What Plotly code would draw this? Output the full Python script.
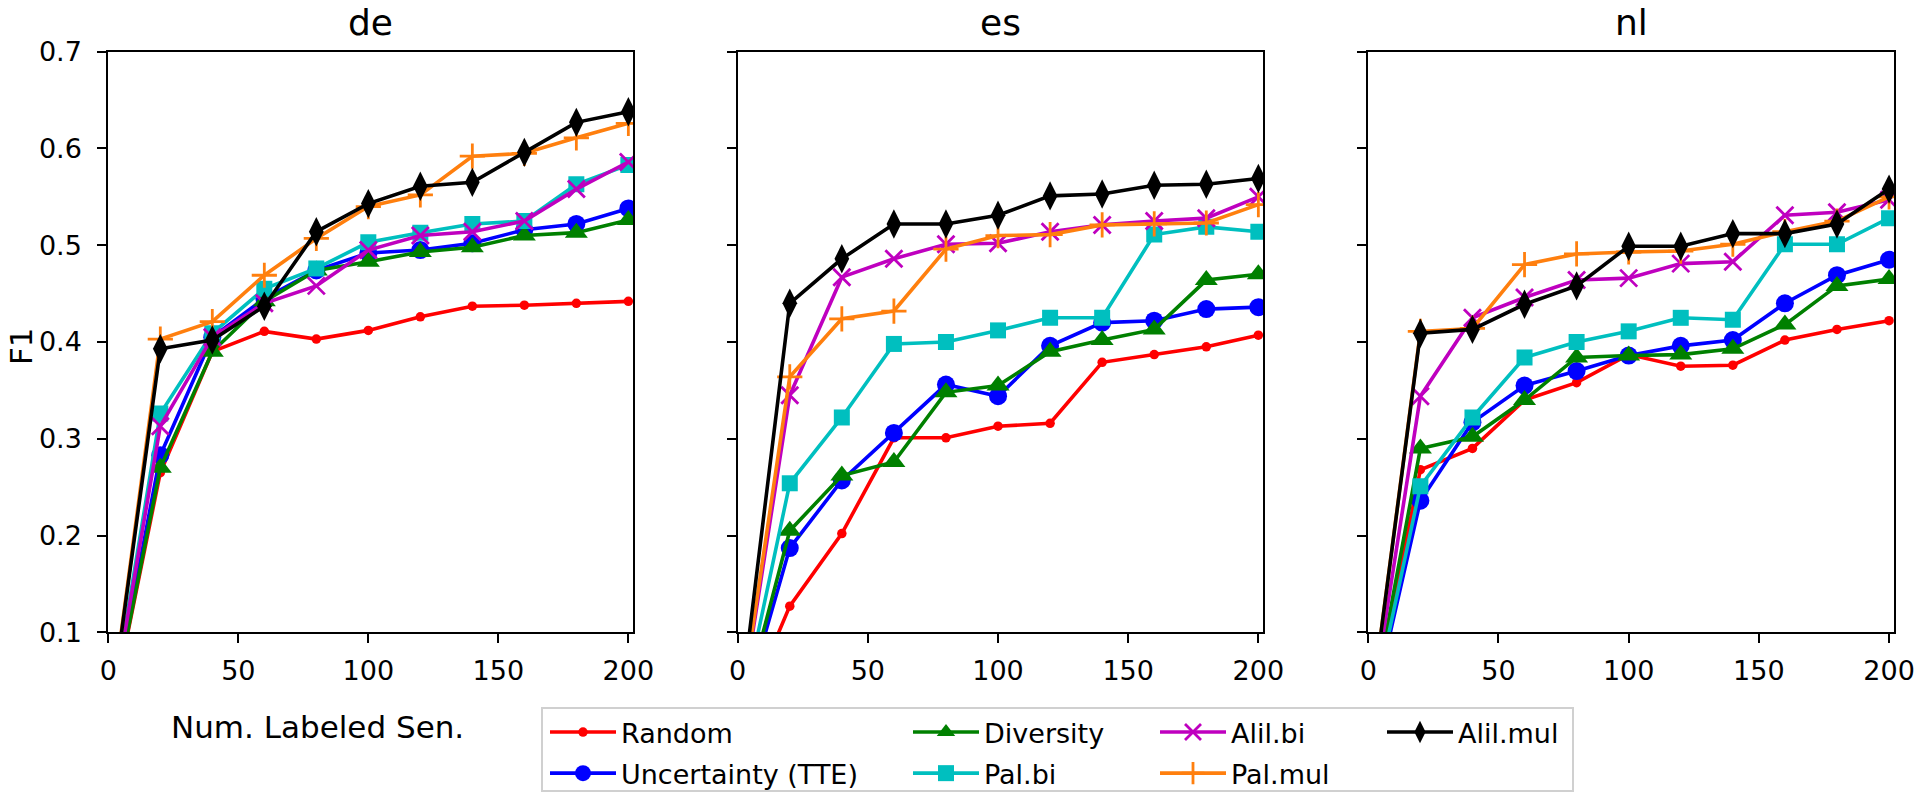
import plotly.graph_objects as go

W, H = 1921, 793

x_vals = [0, 20, 40, 60, 80, 100, 120, 140, 160, 180, 200]
panels = ["de", "es", "nl"]
methods = ["Random", "Uncertainty (TTE)", "Diversity", "Pal.bi", "Alil.bi", "Pal.mul", "Alil.mul"]

# F1 values per panel and method (first point at 0 labeled sentences)
de_random      = [0.0, 0.265, 0.390, 0.411, 0.403, 0.412, 0.426, 0.437, 0.438, 0.440, 0.442]
de_uncertainty = [0.0, 0.283, 0.405, 0.445, 0.474, 0.492, 0.495, 0.502, 0.516, 0.522, 0.538]
de_diversity   = [0.0, 0.270, 0.390, 0.442, 0.474, 0.483, 0.493, 0.498, 0.510, 0.513, 0.526]
de_palbi       = [0.0, 0.326, 0.409, 0.455, 0.476, 0.503, 0.513, 0.522, 0.525, 0.563, 0.583]
de_alilbi      = [0.0, 0.313, 0.405, 0.440, 0.458, 0.495, 0.510, 0.514, 0.525, 0.558, 0.586]
de_palmul      = [0.0, 0.403, 0.421, 0.469, 0.507, 0.540, 0.552, 0.592, 0.595, 0.611, 0.626]
de_alilmul     = [0.0, 0.393, 0.402, 0.437, 0.514, 0.543, 0.561, 0.565, 0.596, 0.627, 0.638]

es_random      = [0.0, 0.127, 0.202, 0.301, 0.301, 0.313, 0.316, 0.379, 0.387, 0.395, 0.407]
es_uncertainty = [0.0, 0.187, 0.257, 0.306, 0.356, 0.344, 0.396, 0.420, 0.422, 0.434, 0.436]
es_diversity   = [0.0, 0.205, 0.262, 0.276, 0.348, 0.355, 0.390, 0.402, 0.413, 0.464, 0.470]
es_palbi       = [0.0, 0.254, 0.322, 0.398, 0.400, 0.412, 0.425, 0.425, 0.511, 0.519, 0.514]
es_alilbi      = [0.0, 0.345, 0.467, 0.486, 0.501, 0.502, 0.514, 0.521, 0.525, 0.528, 0.550]
es_palmul      = [0.0, 0.364, 0.424, 0.432, 0.496, 0.510, 0.511, 0.521, 0.522, 0.523, 0.542]
es_alilmul     = [0.0, 0.440, 0.486, 0.522, 0.522, 0.531, 0.551, 0.553, 0.562, 0.563, 0.569]

nl_random      = [0.0, 0.268, 0.290, 0.340, 0.358, 0.387, 0.375, 0.376, 0.402, 0.413, 0.422]
nl_uncertainty = [0.0, 0.236, 0.317, 0.355, 0.370, 0.386, 0.396, 0.402, 0.440, 0.469, 0.485]
nl_diversity   = [0.0, 0.290, 0.302, 0.340, 0.384, 0.386, 0.387, 0.393, 0.418, 0.458, 0.465]
nl_palbi       = [0.0, 0.251, 0.322, 0.384, 0.400, 0.411, 0.425, 0.423, 0.501, 0.501, 0.528]
nl_alilbi      = [0.0, 0.344, 0.425, 0.446, 0.464, 0.466, 0.481, 0.483, 0.531, 0.534, 0.547]
nl_palmul      = [0.0, 0.411, 0.414, 0.480, 0.491, 0.493, 0.494, 0.501, 0.514, 0.525, 0.550]
nl_alilmul     = [0.0, 0.409, 0.413, 0.439, 0.458, 0.499, 0.499, 0.512, 0.512, 0.522, 0.558]

data = {
    "de": [de_random, de_uncertainty, de_diversity, de_palbi, de_alilbi, de_palmul, de_alilmul],
    "es": [es_random, es_uncertainty, es_diversity, es_palbi, es_alilbi, es_palmul, es_alilmul],
    "nl": [nl_random, nl_uncertainty, nl_diversity, nl_palbi, nl_alilbi, nl_palmul, nl_alilmul],
}

y_ticks = [0.1, 0.2, 0.3, 0.4, 0.5, 0.6, 0.7]
x_ticks = [0, 50, 100, 150, 200]

colors = ["#ff0000", "#0000ff", "#008000", "#00bfbf", "#bf00bf", "#ff7f0e", "#000000"]
symbols = ["circle", "circle", "triangle-up", "square", "x-thin", "cross-thin", "diamond-tall"]
msizes = [9.5, 18, 20, 16, 17, 18, 21]
legend_ids = ["legend", "legend", "legend2", "legend2", "legend3", "legend3", "legend4"]

FONT = "DejaVu Sans"
TICK_FS = 27
LEG_FS = 27
LABEL_FS = 31
TITLE_FS = 36

# pixel geometry of the three panels
x_dom_px = [(108.3, 633.3), (737.7, 1263.3), (1368.3, 1894.0)]
y_top_px, y_bot_px = 51.7, 632.3

fig = go.Figure()
for pi, p in enumerate(panels):
    xa = "x" if pi == 0 else f"x{pi+1}"
    ya = "y" if pi == 0 else f"y{pi+1}"
    for mi, m in enumerate(methods):
        line_sym = symbols[mi] in ("x-thin", "cross-thin")
        marker = dict(symbol=symbols[mi], size=msizes[mi], color=colors[mi],
                      line=dict(width=2.8 if line_sym else 0, color=colors[mi]))
        fig.add_trace(go.Scatter(
            x=x_vals, y=data[p][mi], mode="lines+markers", name=m,
            line=dict(color=colors[mi], width=3.6),
            marker=marker, xaxis=xa, yaxis=ya,
            showlegend=(pi == 0), legend=legend_ids[mi], legendgroup=m,
        ))

layout = dict(width=W, height=H, margin=dict(l=0, r=0, t=0, b=0, pad=0, autoexpand=False),
              autosize=False,
              paper_bgcolor="white", plot_bgcolor="white",
              font=dict(family=FONT, size=TICK_FS, color="black"))

for pi in range(3):
    x0, x1 = x_dom_px[pi]
    xk = "xaxis" if pi == 0 else f"xaxis{pi+1}"
    yk = "yaxis" if pi == 0 else f"yaxis{pi+1}"
    layout[xk] = dict(domain=[x0 / W, x1 / W], range=[0, 201.9], tickvals=x_ticks,
                      showgrid=False, zeroline=False, showline=True, linecolor="black",
                      linewidth=2, mirror=True, ticks="outside", ticklen=9, tickwidth=2,
                      tickcolor="black", anchor="y" if pi == 0 else f"y{pi+1}",
                      tickfont=dict(size=TICK_FS), ticklabelstandoff=4, automargin=False)
    layout[yk] = dict(domain=[1 - y_bot_px / H, 1 - y_top_px / H], range=[0.1, 0.7],
                      tickvals=y_ticks, showticklabels=(pi == 0),
                      showgrid=False, zeroline=False, showline=True, linecolor="black",
                      linewidth=2, mirror=True, ticks="outside", ticklen=9, tickwidth=2,
                      tickcolor="black", anchor="x" if pi == 0 else f"x{pi+1}",
                      tickfont=dict(size=TICK_FS), ticklabelstandoff=10, automargin=False)

# legends: four columns (pixel x of each column's line start)
leg_cols_px = [550, 913, 1160, 1387]
for li, lx in enumerate(leg_cols_px):
    key = "legend" if li == 0 else f"legend{li+1}"
    layout[key] = dict(x=(lx - 5) / W, y=1 - 708 / H, xref="container", yref="container",
                       xanchor="left", yanchor="top",
                       orientation="v", bgcolor="rgba(0,0,0,0)", borderwidth=0,
                       font=dict(family=FONT, size=LEG_FS, color="black"), itemwidth=66,
                       tracegroupgap=3)

annotations = []
for pi, p in enumerate(panels):
    x0, x1 = x_dom_px[pi]
    annotations.append(dict(text=p, x=(x0 + x1) / 2 / W, y=1 - 22 / H, xref="paper", yref="paper",
                            xanchor="center", yanchor="middle", showarrow=False,
                            font=dict(family=FONT, size=TITLE_FS, color="black")))
annotations.append(dict(text="F1", x=21 / W, y=1 - 346 / H, xref="paper", yref="paper",
                        xanchor="center", yanchor="middle", textangle=-90, showarrow=False,
                        font=dict(family=FONT, size=LABEL_FS, color="black")))
annotations.append(dict(text="Num. Labeled Sen.", x=317 / W, y=1 - 727 / H, xref="paper", yref="paper",
                        xanchor="center", yanchor="middle", showarrow=False,
                        font=dict(family=FONT, size=LABEL_FS, color="black")))
layout["annotations"] = annotations

layout["shapes"] = [dict(type="rect", xref="paper", yref="paper",
                         x0=542 / W, x1=1573 / W, y0=1 - 708 / H, y1=1 - 791 / H,
                         line=dict(color="#d0d0d0", width=2), fillcolor="rgba(0,0,0,0)",
                         layer="below")]

fig.update_layout(**layout)
fig.write_html("out.html")
